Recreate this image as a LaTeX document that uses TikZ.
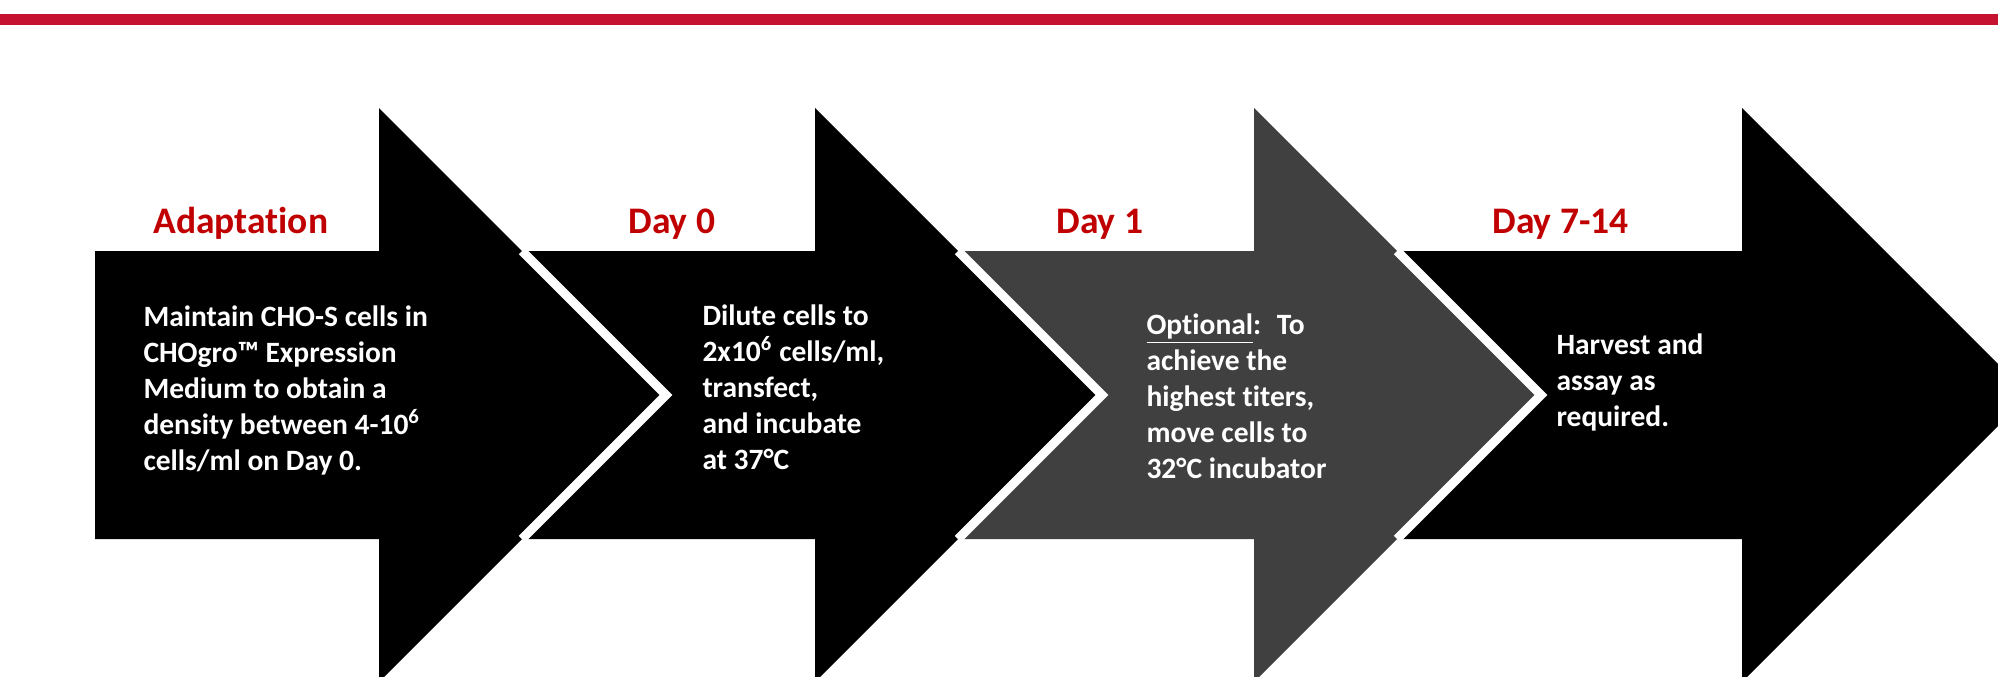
\documentclass[tikz,border=0pt]{standalone}
\usepackage{fontspec}
\setmainfont{Carlito}[Ligatures=NoCommon]
\definecolor{bandred}{HTML}{C41230}
\definecolor{dayred}{HTML}{C00000}
\definecolor{stepgray}{HTML}{404040}

\begin{document}
\begin{tikzpicture}
  [x=0.4pt, y=-0.4pt,
  every node/.style={inner sep=0pt, anchor=base west},
  daylabel/.style={font=\bfseries\fontsize{15}{18}\selectfont, text=dayred},
  steptext/.style={font=\bfseries\fontsize{11.8}{14.4}\selectfont, text=white, align=left},
  gap/.style={draw=white, line width=3.6pt, line join=miter}]
  \useasboundingbox (0,0) rectangle (1998,676);
  \clip (0,0) rectangle (1998,676);
  % red band
  \fill[bandred] (0,14) rectangle (1998,25);

  % step arrows, left to right
  \fill[black] (95,251) -- (379,251) -- (379,108) -- (666,395) -- (379,682) -- (379,539) -- (95,539) -- cycle;
  \fill[black] (522,251) -- (815,251) -- (815,108) -- (1102,395) -- (815,682) -- (815,539) -- (522,539) -- (666,395) -- cycle;
  \draw[gap] (522,251) -- (666,395) -- (522,539);
  \fill[stepgray] (958,251) -- (1254,251) -- (1254,108) -- (1541,395) -- (1254,682) -- (1254,539) -- (958,539) -- (1102,395) -- cycle;
  \draw[gap] (958,251) -- (1102,395) -- (958,539);
  \fill[black] (1397,251) -- (1742,251) -- (1742,108) -- (2029,395) -- (1742,682) -- (1742,539) -- (1397,539) -- (1541,395) -- cycle;
  \draw[gap] (1397,251) -- (1541,395) -- (1397,539);

  % headings
  \node[daylabel] (adapt) at (153,233) {Adaptation};
  \node[daylabel] (day0) at (628,233) {Day 0};
  \node[daylabel] (day1) at (1056,233) {Day 1};
  \node[daylabel] (day714) at (1492,233) {Day 7-14};

  % what happens at each step (placed by the baseline of the last line)
  \node[steptext] (maintain) at (143,470) {Maintain CHO-S cells in\\CHOgro™ Expression\\Medium to obtain a\\density between 4-10\textsuperscript{6}\\cells/ml on Day 0.};
  \node[steptext] (dilute) at (702,469) {Dilute cells to\\2x10\textsuperscript{6} cells/ml,\\transfect,\\and incubate\\at 37°C};
  \node[steptext] (optional) at (1146,478) {\underline{Optional}:~ To\\achieve the\\highest titers,\\move cells to\\32°C incubator};
  \node[steptext] (harvest) at (1556,426) {Harvest and\\assay as\\required.};
\end{tikzpicture}
\end{document}
